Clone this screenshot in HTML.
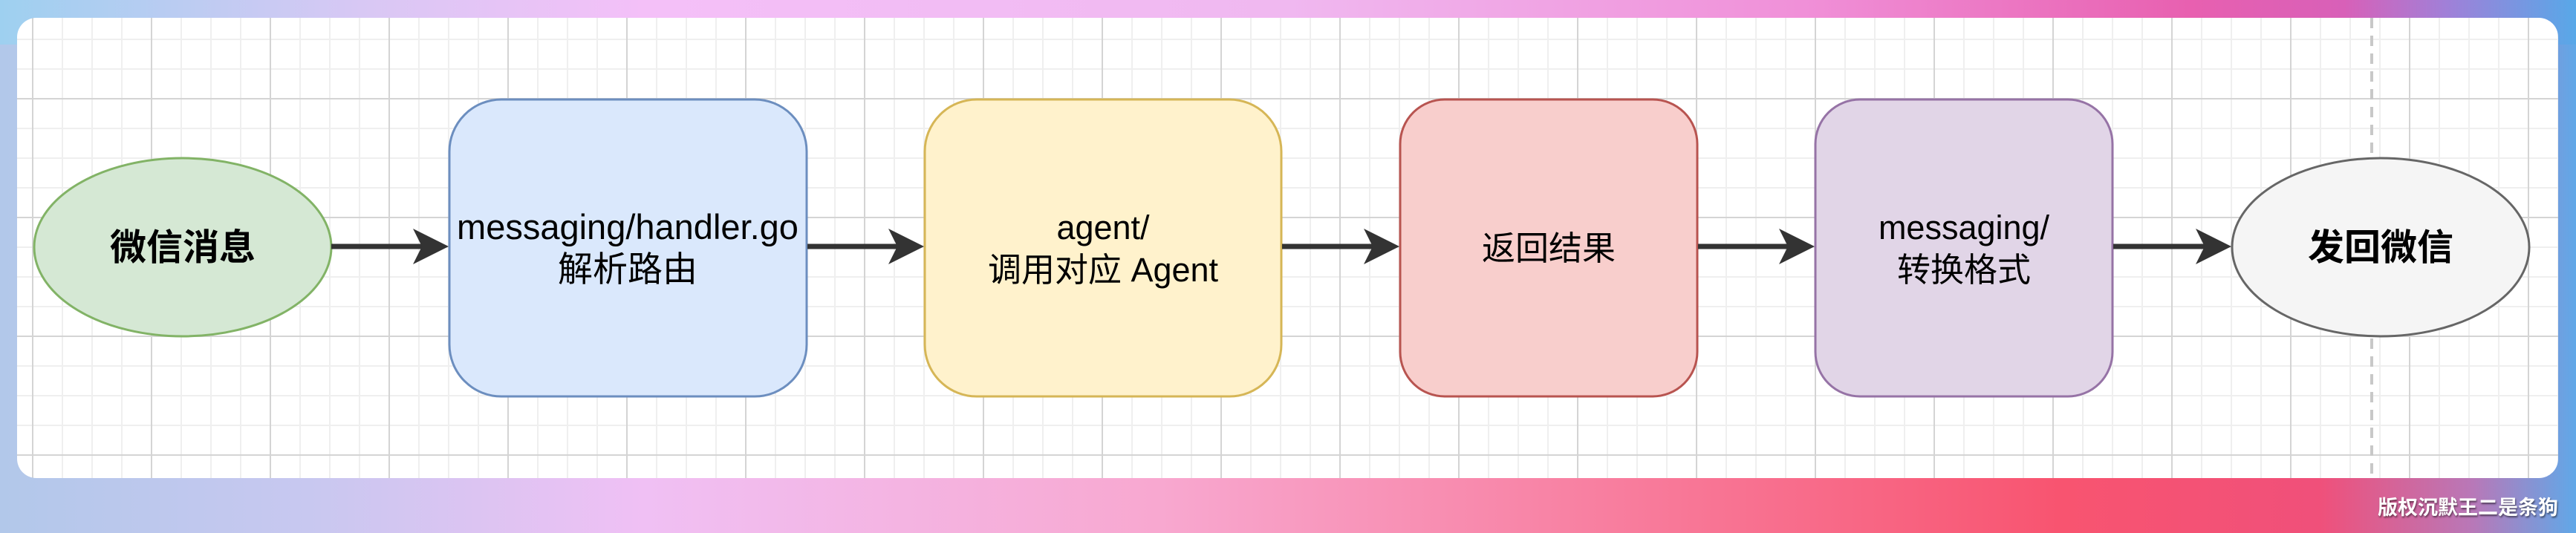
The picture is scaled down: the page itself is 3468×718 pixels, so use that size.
<!DOCTYPE html>
<html><head><meta charset="utf-8"><style>
html,body{margin:0;padding:0}
body{width:3468px;height:718px;position:relative;overflow:hidden;
background:linear-gradient(90deg,#b2c8ea 0%,#c8c8f0 12%,#f0c0f4 25%,#f8a8d0 45%,#f87898 65%,#f85470 80%,#f0507a 90%,#b878b8 96%,#60a8e8 100%);}
.top{position:absolute;left:0;top:0;width:3468px;height:60px;
background:linear-gradient(90deg,#9ed0f0 0%,#d8c8f4 14%,#f4c0f8 25%,#f0b8f0 50%,#f090d8 70%,#e860b0 85%,#d860b8 91%,#a080d8 95%,#58a8e8 100%)}
.card{position:absolute;left:23px;top:24px;width:3421px;height:620px;border-radius:26px;overflow:hidden;background-color:#fff;
background-image:
linear-gradient(90deg,#d4d4d4 2px,transparent 2px),
linear-gradient(180deg,#d4d4d4 2px,transparent 2px),
linear-gradient(90deg,#efefef 2px,transparent 2px),
linear-gradient(180deg,#efefef 2px,transparent 2px);
background-size:160px 160px,160px 160px,40px 40px,40px 40px;
background-position:20px 108px,20px 108px,20px 108px,20px 108px;}
svg{position:absolute;left:0;top:0}
.wm{position:absolute;right:24px;top:662px;white-space:nowrap;color:#fff;font:bold 27px "Liberation Sans","Noto Sans CJK SC",sans-serif;text-shadow:1px 2px 2px rgba(0,0,0,.5)}
</style></head><body>
<div class="top"></div>
<div class="card"></div>
<svg width="3468" height="718" xmlns="http://www.w3.org/2000/svg" font-family="'Liberation Sans','Noto Sans CJK SC',sans-serif">
<line x1="3193" y1="24" x2="3193" y2="644" stroke="#c8c8c8" stroke-width="4" stroke-dasharray="14,10"/>
<ellipse cx="246" cy="333" rx="200" ry="120" fill="#d5e8d4" stroke="#82b366" stroke-width="3"/>
<rect x="605" y="134" width="481" height="400" rx="70" fill="#dae8fc" stroke="#6c8ebf" stroke-width="3"/>
<rect x="1245" y="134" width="480" height="400" rx="70" fill="#fff2cc" stroke="#d6b656" stroke-width="3"/>
<rect x="1885" y="134" width="400" height="400" rx="60" fill="#f8cecc" stroke="#b85450" stroke-width="3"/>
<rect x="2444" y="134" width="400" height="400" rx="60" fill="#e1d5e7" stroke="#9673a6" stroke-width="3"/>
<ellipse cx="3205" cy="333" rx="200" ry="120" fill="#f5f5f5" stroke="#666" stroke-width="3"/>
<g stroke="#333" stroke-width="7" fill="#333">
<line x1="446" y1="332" x2="575" y2="332"/>
<line x1="1087" y1="332" x2="1215" y2="332"/>
<line x1="1726" y1="332" x2="1855" y2="332"/>
<line x1="2286" y1="332" x2="2414" y2="332"/>
<line x1="2845" y1="332" x2="2975" y2="332"/>
</g>
<g fill="#333">
<path d="M604 332 L556 308 L568 332 L556 356 Z"/>
<path d="M1244 332 L1196 308 L1208 332 L1196 356 Z"/>
<path d="M1884 332 L1836 308 L1848 332 L1836 356 Z"/>
<path d="M2443 332 L2395 308 L2407 332 L2395 356 Z"/>
<path d="M3004 332 L2956 308 L2968 332 L2956 356 Z"/>
</g>
<g text-anchor="middle" fill="#000" font-size="45">
<text x="246" y="350" font-weight="bold" font-size="49">微信消息</text>
<text x="845" y="322" font-size="47">messaging/handler.go</text>
<text x="845" y="379" font-size="47">解析路由</text>
<text x="1485" y="322">agent/</text>
<text x="1485" y="379">调用对应 Agent</text>
<text x="2085" y="350">返回结果</text>
<text x="2644" y="322">messaging/</text>
<text x="2644" y="379">转换格式</text>
<text x="3205" y="350" font-weight="bold" font-size="49">发回微信</text>
</g>
</svg>
<div class="wm">版权沉默王二是条狗</div>
</body></html>
